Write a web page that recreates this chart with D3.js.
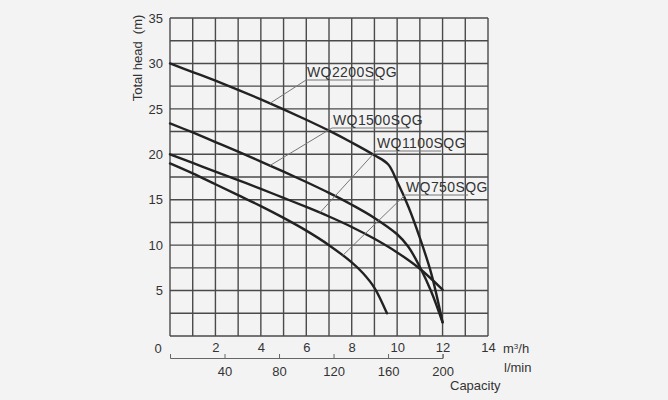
<!DOCTYPE html>
<html>
<head>
<meta charset="utf-8">
<script src="https://cdn.jsdelivr.net/npm/d3@7"></script>
<style>
  body { margin: 0; background: #f3f3f3; }
  svg { display: block; font-family: "Liberation Sans", Arial, sans-serif; }
  .tick-label { fill: #333; font-size: 13px; }
  .model { fill: #333; font-size: 14px; letter-spacing: 0.4px; }
</style>
</head>
<body>
<div id="chart"></div>
<script>
// pump curves, capacity m3/h -> head m
const wq2200 = [[0, 30], [1, 29.05], [2, 28.1], [3, 27.1], [4, 26.05], [5, 24.95], [6, 23.8], [7, 22.6], [8, 21.3], [9, 19.9], [9.6, 18.9], [10, 17.0], [10.5, 14.2], [11, 10.8], [11.5, 6.9], [12, 1.5]];
const wq1500 = [[0, 23.4], [1, 22.4], [2, 21.35], [3, 20.3], [4, 19.2], [5, 18.1], [6, 16.95], [7, 15.75], [8, 14.45], [9, 13.0], [10, 11.2], [10.5, 9.8], [11, 7.6], [11.5, 4.9], [12, 1.5]];
const wq1100 = [[0, 20], [1, 19.05], [2, 18.1], [3, 17.15], [4, 16.2], [5, 15.2], [6, 14.2], [7, 13.15], [8, 12.0], [9, 10.7], [10, 9.2], [11, 7.4], [12, 5.1]];
const wq750 = [[0, 19], [1, 17.9], [2, 16.7], [3, 15.5], [4, 14.3], [5, 13.0], [6, 11.6], [7, 10.0], [8, 8.1], [8.5, 6.9], [9, 5.3], [9.55, 2.5]];

const models = ["WQ2200SQG", "WQ1500SQG", "WQ1100SQG", "WQ750SQG"];
const leaderAt = [4.4, 4.4, 6.6, 7.6]; // capacity where the label line meets the curve

const headTicks = [5, 10, 15, 20, 25, 30, 35];
const m3hTicks = [2, 4, 6, 8, 10, 12, 14];
const lminTicks = [40, 80, 120, 160, 200];

const width = 668, height = 400;
const svg = d3.select("#chart").append("svg").attr("width", width).attr("height", height);

const x = d3.scaleLinear().domain([0, 14]).range([170, 488]);
const y = d3.scaleLinear().domain([0, 35]).range([336, 18]);
const xl = d3.scaleLinear().domain([0, 200]).range([x(0), x(12)]);

// grid
const grid = svg.append("g").attr("stroke", "#4a4a4a").attr("stroke-width", 1.4);
grid.selectAll(".v").data(d3.range(0, 15)).join("line")
  .attr("x1", (d) => x(d)).attr("x2", (d) => x(d))
  .attr("y1", y(0)).attr("y2", y(35));
grid.selectAll(".h").data(d3.range(0, 36, 2.5)).join("line")
  .attr("y1", (d) => y(d)).attr("y2", (d) => y(d))
  .attr("x1", x(0)).attr("x2", x(14));

// axes
const yAxis = d3.axisLeft(y).tickValues(headTicks).tickSize(0).tickPadding(7);
const yg = svg.append("g").attr("transform", `translate(${x(0)},0)`).call(yAxis);
yg.select(".domain").remove();
yg.selectAll("text").attr("class", "tick-label").attr("font-size", null).attr("font-family", null);

const xAxis = d3.axisBottom(x).tickValues(m3hTicks).tickSize(0).tickPadding(7);
const xg = svg.append("g").attr("transform", `translate(0,${y(0)})`).call(xAxis);
xg.select(".domain").remove();
xg.selectAll("text").attr("class", "tick-label").attr("font-size", null).attr("font-family", null);

svg.append("text").attr("class", "tick-label")
  .attr("x", 158).attr("y", 353).attr("text-anchor", "middle").text("0");

const lAxis = d3.axisBottom(xl).tickValues(lminTicks).tickSize(-4).tickSizeOuter(-4).tickPadding(9);
const lg = svg.append("g").attr("transform", "translate(0,358)").call(lAxis);
lg.selectAll("line, path").attr("stroke", "#666");
lg.selectAll("text").attr("class", "tick-label").attr("font-size", null).attr("font-family", null);

// unit labels
const units = svg.append("text").attr("class", "tick-label").attr("x", 503).attr("y", 353);
units.append("tspan").text("m");
units.append("tspan").attr("dy", -4).attr("font-size", 8).text("3");
units.append("tspan").attr("dy", 4).text("/h");
svg.append("text").attr("class", "tick-label").attr("x", 504).attr("y", 372).text("l/min");
svg.append("text").attr("class", "tick-label").attr("x", 450).attr("y", 390)
  .attr("font-size", 14).text("Capacity");

svg.append("text").attr("class", "tick-label")
  .attr("transform", `translate(142,58)rotate(-90)`)
  .attr("text-anchor", "middle")
  .attr("xml:space", "preserve")
  .text("Total head  (m)");

// curves
const line = d3.line().x((d) => x(d[0])).y((d) => y(d[1])).curve(d3.curveCatmullRom.alpha(0.5));
const curves = [wq2200, wq1500, wq1100, wq750];

svg.append("g").selectAll("path").data(curves).join("path")
  .attr("d", line)
  .attr("fill", "none")
  .attr("stroke", "#222")
  .attr("stroke-width", 2.4)
  .attr("stroke-linecap", "round");

// labels with leader lines
const labelPos = [[307, 77], [333, 125], [377, 148], [406, 192]];
const underline = [72, 76, 64, 62];

function headAt(data, cx) {
  const i = d3.bisector((d) => d[0]).right(data, cx);
  const a = data[i - 1], b = data[i];
  return a[1] + ((cx - a[0]) / (b[0] - a[0])) * (b[1] - a[1]);
}

models.forEach((name, i) => {
  const [tx, ty] = labelPos[i];
  const px = x(leaderAt[i]), py = y(headAt(curves[i], leaderAt[i]));
  svg.append("path")
    .attr("d", `M${px},${py}L${tx - 1},${ty + 3}H${tx + underline[i]}`)
    .attr("fill", "none")
    .attr("stroke", "#777")
    .attr("stroke-width", 1);
  svg.append("text").attr("class", "model").attr("x", tx).attr("y", ty).text(name);
});
</script>
</body>
</html>
